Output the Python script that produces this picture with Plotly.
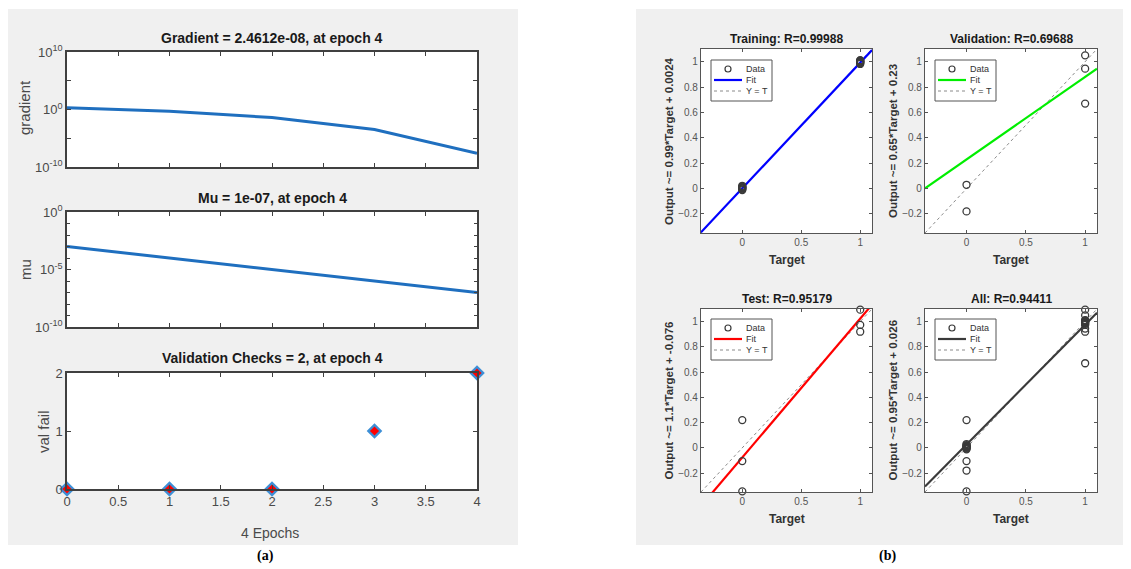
import plotly.graph_objects as go

# The page body keeps its default 8px margin, so the figure is drawn 8px
# smaller than the window and every reference pixel is shifted by OFF.
VIEW_W, VIEW_H = 1131, 569
OFF = 8
W, H = VIEW_W - OFF, VIEW_H - OFF

# ---------------- data (left: training performance) ----------------
epochs = [0, 1, 2, 3, 4]
gradient = [2.1, 0.5, 0.04, 3.2e-4, 2.4612e-8]
mu = [1e-3, 1e-4, 1e-5, 1e-6, 1e-7]
val_fail = [0, 0, 0, 1, 2]

# ---------------- data (right: regression) ----------------
train_target = [0, 0, 0, 0, 0, 0, 0, 0, 1, 1, 1, 1, 1, 1, 1, 1]
train_output = [-0.012, -0.006, 0.0, 0.004, 0.008, 0.012, 0.016, 0.022,
                0.982, 0.988, 0.993, 0.997, 1.0, 1.004, 1.008, 1.012]
val_target = [0, 0, 1, 1, 1]
val_output = [0.03, -0.18, 1.05, 0.945, 0.67]
test_target = [0, 0, 0, 1, 1, 1]
test_output = [0.22, -0.105, -0.345, 1.095, 0.974, 0.92]
all_target = train_target + val_target + test_target
all_output = train_output + val_output + test_output

panel_names = ["Training", "Validation", "Test", "All"]
panel_R = ["0.99988", "0.69688", "0.95179", "0.94411"]
fit_slope = [0.99, 0.65, 1.1, 0.95]
fit_intercept = [0.0024, 0.23, -0.076, 0.026]
fit_label = ["0.99*Target + 0.0024", "0.65*Target + 0.23",
             "1.1*Target + -0.076", "0.95*Target + 0.026"]
fit_colors = ["#0000ff", "#00ee00", "#ff0000", "#3a3a3a"]
targets = [train_target, val_target, test_target, all_target]
outputs = [train_output, val_output, test_output, all_output]
legend_labels = ["Data", "Fit", "Y = T"]

FONT = "Liberation Sans, Arial, sans-serif"


def px_x(p):
    return (p - OFF) / W


def px_y(p):
    return 1 - (p - OFF) / H


def note(text, x, y, size, color, angle=0, xanchor="center", family=FONT):
    return dict(text=text, x=px_x(x), y=px_y(y), xref="paper", yref="paper",
                showarrow=False, textangle=angle, xanchor=xanchor, yanchor="middle",
                font=dict(family=family, size=size, color=color))


fig = go.Figure()
shapes = []
annotations = []

# gray panels
for x0, x1 in [(4, 518), (636, 1128)]:
    shapes.append(dict(type="rect", xref="paper", yref="paper",
                       x0=px_x(x0), x1=px_x(x1), y0=px_y(545), y1=px_y(9),
                       fillcolor="#f0f0f0", line=dict(width=0), layer="below"))

# ---------------- left panel ----------------
left_x = (67, 477)
left_rows = [(52, 167), (212, 327), (373, 489)]
axis_line = "#404040"
tick_col = "#4a4a4a"

for i, (t, b) in enumerate(left_rows):
    n = i + 1
    shapes.append(dict(type="rect", xref="paper", yref="paper",
                       x0=px_x(left_x[0]), x1=px_x(left_x[1]), y0=px_y(b), y1=px_y(t),
                       fillcolor="white", line=dict(width=0), layer="below"))
    fig.layout[f"xaxis{n}"] = dict(
        domain=[px_x(left_x[0]), px_x(left_x[1])], anchor=f"y{n}",
        range=[0, 4], tickvals=[0, 0.5, 1, 1.5, 2, 2.5, 3, 3.5, 4],
        showticklabels=(n == 3), ticks="inside", ticklen=4, tickcolor=axis_line,
        showline=True, linecolor=axis_line, linewidth=1.5, mirror="ticks",
        showgrid=False, zeroline=False,
        tickfont=dict(family=FONT, size=13, color=tick_col))
    ydict = dict(domain=[px_y(b), px_y(t)], anchor=f"x{n}",
                 ticks="inside", ticklen=4, tickcolor=axis_line,
                 showline=True, linecolor=axis_line, linewidth=1.5, mirror="ticks",
                 showgrid=False, zeroline=False,
                 tickfont=dict(family=FONT, size=13, color=tick_col))
    if n == 1:
        ydict.update(type="log", range=[-10, 10],
                     tickvals=[1e-10, 1, 1e10],
                     ticktext=["10<sup>-10</sup>", "10<sup>0</sup>", "10<sup>10</sup>"],
                     minor=dict(tickvals=[1e-5, 1e5], ticks="inside", ticklen=4,
                                tickcolor=axis_line, showgrid=False))
    elif n == 2:
        ydict.update(type="log", range=[-10, 0],
                     tickvals=[1e-10, 1e-5, 1],
                     ticktext=["10<sup>-10</sup>", "10<sup>-5</sup>", "10<sup>0</sup>"],
                     minor=dict(tickvals=[10.0 ** e for e in range(-9, 0) if e != -5],
                                ticks="inside", ticklen=3, tickcolor=axis_line,
                                showgrid=False))
    else:
        ydict.update(range=[0, 2], tickvals=[0, 1, 2])
    fig.layout[f"yaxis{n}"] = ydict

line_blue = "#1f6fbf"
fig.add_trace(go.Scatter(x=epochs, y=gradient, mode="lines", xaxis="x1", yaxis="y1",
                         line=dict(color=line_blue, width=3), showlegend=False))
fig.add_trace(go.Scatter(x=epochs, y=mu, mode="lines", xaxis="x2", yaxis="y2",
                         line=dict(color=line_blue, width=3), showlegend=False))
fig.add_trace(go.Scatter(x=epochs, y=val_fail, mode="markers", xaxis="x3", yaxis="y3",
                         marker=dict(symbol="diamond", size=12, color="#3d8fd6"),
                         cliponaxis=False, showlegend=False))
fig.add_trace(go.Scatter(x=epochs, y=val_fail, mode="markers", xaxis="x3", yaxis="y3",
                         marker=dict(symbol="diamond", size=7, color="#ff0000"),
                         cliponaxis=False, showlegend=False))

left_titles = ["Gradient = 2.4612e-08, at epoch 4", "Mu = 1e-07, at epoch 4",
               "Validation Checks = 2, at epoch 4"]
title_y = [38, 198, 358]
for txt, yy in zip(left_titles, title_y):
    annotations.append(note(f"<b>{txt}</b>", 272, yy, 14, "#1a1a1a"))
for txt, xx, yy in [("gradient", 25, 108), ("mu", 25, 270), ("val fail", 44, 432)]:
    annotations.append(note(txt, xx, yy, 15, "#4a4a4a", angle=-90))
annotations.append(note("4 Epochs", 270, 533, 14, "#4a4a4a"))
serif = "Liberation Serif, Times New Roman, serif"
annotations.append(note("<b>(a)</b>", 265, 556, 14, "black", family=serif))
annotations.append(note("<b>(b)</b>", 887, 556, 14, "black", family=serif))

# ---------------- right panel ----------------
boxes = [((701, 872), (49, 233)), ((925, 1097), (49, 233)),
         ((701, 872), (309, 492)), ((925, 1097), (309, 492))]
legend_pos = [(711, 60), (935, 60), (711, 319), (935, 319)]
ylab_x = [669, 893, 669, 893]
rng = [-0.35, 1.1]
r_tick = "#555555"
r_line = "#555555"

for k in range(4):
    n = k + 4
    (xl, xr), (yt, yb) = boxes[k]
    shapes.append(dict(type="rect", xref="paper", yref="paper",
                       x0=px_x(xl), x1=px_x(xr), y0=px_y(yb), y1=px_y(yt),
                       fillcolor="white", line=dict(width=0), layer="below"))
    fig.layout[f"xaxis{n}"] = dict(
        domain=[px_x(xl), px_x(xr)], anchor=f"y{n}", range=rng,
        tickvals=[0, 0.5, 1], ticks="inside", ticklen=3, tickcolor=r_line,
        showline=True, linecolor=r_line, linewidth=1.2, mirror="ticks",
        showgrid=False, zeroline=False,
        tickfont=dict(family=FONT, size=10, color=r_tick))
    fig.layout[f"yaxis{n}"] = dict(
        domain=[px_y(yb), px_y(yt)], anchor=f"x{n}", range=rng,
        tickvals=[-0.2, 0, 0.2, 0.4, 0.6, 0.8, 1], ticks="inside", ticklen=3,
        tickcolor=r_line, showline=True, linecolor=r_line, linewidth=1.2, mirror="ticks",
        showgrid=False, zeroline=False,
        tickfont=dict(family=FONT, size=10, color=r_tick))
    # Y = T reference line, fit line, then data
    fig.add_trace(go.Scatter(x=rng, y=rng, mode="lines", name=legend_labels[2],
                             xaxis=f"x{n}", yaxis=f"y{n}", showlegend=False,
                             line=dict(color="#8a8a8a", width=1, dash="dot")))
    fit_y = [fit_slope[k] * v + fit_intercept[k] for v in rng]
    fig.add_trace(go.Scatter(x=rng, y=fit_y, mode="lines", name=legend_labels[1],
                             xaxis=f"x{n}", yaxis=f"y{n}", showlegend=False,
                             line=dict(color=fit_colors[k], width=2.2)))
    fig.add_trace(go.Scatter(x=targets[k], y=outputs[k], mode="markers",
                             name=legend_labels[0], xaxis=f"x{n}", yaxis=f"y{n}",
                             showlegend=False, cliponaxis=False,
                             marker=dict(symbol="circle-open", size=7, color="#3a3a3a",
                                         line=dict(width=1.3))))
    # compact MATLAB-style legend box
    bx, by = legend_pos[k]
    shapes.append(dict(type="rect", xref="paper", yref="paper",
                       x0=px_x(bx), x1=px_x(bx + 61), y0=px_y(by + 41), y1=px_y(by),
                       fillcolor="white", line=dict(color="#555555", width=1)))
    shapes.append(dict(type="circle", xref="paper", yref="paper",
                       x0=px_x(bx + 14), x1=px_x(bx + 20), y0=px_y(by + 12), y1=px_y(by + 6),
                       line=dict(color="#3a3a3a", width=1.2)))
    shapes.append(dict(type="line", xref="paper", yref="paper",
                       x0=px_x(bx + 3), x1=px_x(bx + 31), y0=px_y(by + 20), y1=px_y(by + 20),
                       line=dict(color=fit_colors[k], width=2.2)))
    shapes.append(dict(type="line", xref="paper", yref="paper",
                       x0=px_x(bx + 3), x1=px_x(bx + 31), y0=px_y(by + 31), y1=px_y(by + 31),
                       line=dict(color="#8a8a8a", width=1, dash="dot")))
    for j, dy in enumerate([9, 20, 31]):
        annotations.append(note(legend_labels[j], bx + 33, by + dy, 9, "#333333",
                                xanchor="left"))
    cx = (xl + xr) / 2
    annotations.append(note(f"<b>{panel_names[k]}: R={panel_R[k]}</b>", cx, yt - 10,
                            12, "#1a1a1a"))
    annotations.append(note("<b>Target</b>", cx, yb + 27, 12, "#333333"))
    annotations.append(note(f"<b>Output ~= {fit_label[k]}</b>", ylab_x[k], (yt + yb) / 2,
                            11.5, "#333333", angle=-90))

fig.update_layout(width=W, height=H, autosize=False,
                  margin=dict(l=0, r=0, t=0, b=0, pad=0, autoexpand=False),
                  paper_bgcolor="white", plot_bgcolor="white",
                  shapes=shapes, annotations=annotations, showlegend=False,
                  font=dict(family=FONT))

fig.write_html("out.html")
